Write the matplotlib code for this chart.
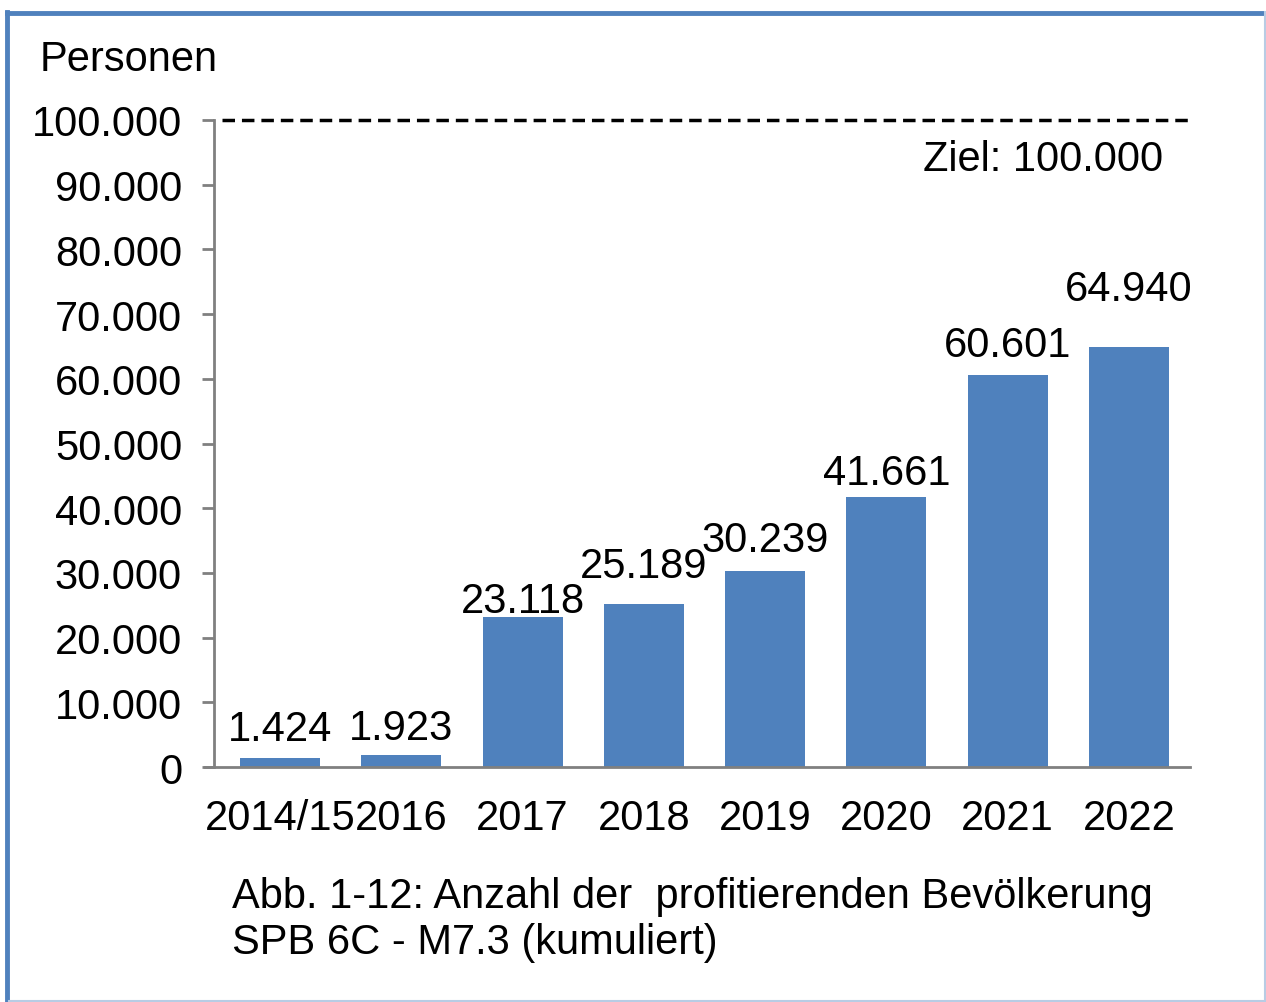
import matplotlib
matplotlib.use("Agg")
import matplotlib.pyplot as plt
from matplotlib.lines import Line2D

categories = ["2014/15", "2016", "2017", "2018", "2019", "2020", "2021", "2022"]
values = [1424, 1923, 23118, 25189, 30239, 41661, 60601, 64940]
value_labels = ["1.424", "1.923", "23.118", "25.189", "30.239", "41.661", "60.601", "64.940"]
yticks = [0, 10000, 20000, 30000, 40000, 50000, 60000, 70000, 80000, 90000, 100000]
ytick_labels = ["0", "10.000", "20.000", "30.000", "40.000", "50.000",
                "60.000", "70.000", "80.000", "90.000", "100.000"]
target = 100000
target_label = "Ziel: 100.000"
y_title = "Personen"
caption = "Abb. 1-12: Anzahl der  profitierenden Bevölkerung\nSPB 6C - M7.3 (kumuliert)"

# label vertical offsets above bar tops (pixels)
label_offsets = [29, 27, 16, 38, 31, 24, 30, 58]

plt.rcParams['font.family'] = ['Liberation Sans', 'DejaVu Sans']

W, H = 1266, 1003
FS = 30
fig = plt.figure(figsize=(W / 100, H / 100), dpi=100)
fig.patch.set_facecolor("white")

ax = fig.add_axes([214 / W, 1 - 768 / H, (1190 - 214) / W, (768 - 121) / H])
x = list(range(len(categories)))
ax.bar(x, values, width=0.66, color="#4F81BD", zorder=2)

ax.set_xlim(-0.544, 7.503)
ax.set_ylim(0, 100000)
ax.set_yticks(yticks)
ax.set_yticklabels(ytick_labels, fontsize=FS)
ax.set_xticks(x)
ax.set_xticklabels(categories, fontsize=FS)
ax.tick_params(axis="y", length=9, width=2, color="#808080", pad=14)
ax.tick_params(axis="x", length=0, pad=22)
for s in ["top", "right"]:
    ax.spines[s].set_visible(False)
ax.spines["left"].set_color("#808080")
ax.spines["left"].set_linewidth(2)
ax.spines["bottom"].set_color("#808080")
ax.spines["bottom"].set_linewidth(2)
ax.spines["bottom"].set_bounds(-0.62, 7.503)

# target line
ax.plot([-0.48, 7.52], [target, target], color="black", lw=2.5,
        dashes=(3.6, 2.0), clip_on=False, zorder=3)
ax.text(1163 / W, 1 - 160 / H, target_label, transform=fig.transFigure,
        ha="right", va="center", fontsize=FS)

for xi, v, lab, off in zip(x, values, value_labels, label_offsets):
    ax.annotate(lab, (xi, v), xytext=(0, off), textcoords="offset pixels",
                ha="center", va="center", fontsize=FS)

fig.text(40 / W, 1 - 60 / H, y_title, ha="left", va="center", fontsize=FS)
fig.text(232 / W, 1 - 920 / H, caption, ha="left", va="center",
         fontsize=FS, linespacing=1.2)

# frame
fig.add_artist(Line2D([7.5 / W, 7.5 / W], [0, 1 - 13 / H], transform=fig.transFigure,
                      color="#4F81BD", lw=3.5))
fig.add_artist(Line2D([7.5 / W, 1], [1 - 13.5 / H, 1 - 13.5 / H], transform=fig.transFigure,
                      color="#4F81BD", lw=3.5))
fig.add_artist(Line2D([1264.5 / W, 1264.5 / W], [0, 1 - 13 / H], transform=fig.transFigure,
                      color="#B8CCE4", lw=1.5))
fig.add_artist(Line2D([9 / W, 1], [1.5 / H, 1.5 / H], transform=fig.transFigure,
                      color="#B8CCE4", lw=1.5))

fig.savefig("out.png", dpi=100)
